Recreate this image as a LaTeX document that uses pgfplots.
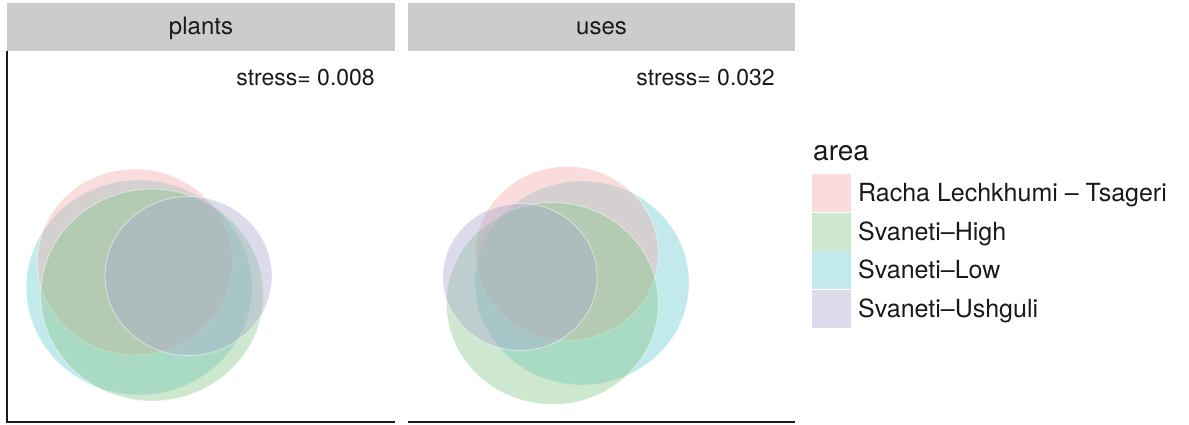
\documentclass[border=0pt]{standalone}
\usepackage{fontspec}
\setmainfont{TeX Gyre Heros}
\usepackage{pgfplots}
\pgfplotsset{compat=1.18}
\definecolor{cRacha}{RGB}{243,168,168}
\definecolor{cHigh}{RGB}{132,198,135}
\definecolor{cLow}{RGB}{103,203,208}
\definecolor{cUsh}{RGB}{168,166,204}
\definecolor{stripgray}{HTML}{CCCCCC}
\definecolor{txt}{HTML}{1A1A1A}
\pgfplotsset{
  venn/.style 2 args={only marks, mark=*, mark size=#1,
    mark options={xscale=1.05, fill=#2, fill opacity=0.4, draw=white, draw opacity=0.5, line width=0.8pt},
    legend image code/.code={\path[fill=#2, fill opacity=0.4, draw=none] (0pt,-19pt) rectangle (39pt,19pt);}},
}
\begin{document}
\begin{tikzpicture}
\useasboundingbox (0,0) rectangle (1189pt,425pt);
% ---------- panel: plants ----------
\begin{axis}[name=p1, at={(7pt,3pt)}, anchor=south west, scale only axis,
  width=388pt, height=371pt, xmin=7, xmax=395, ymin=3, ymax=374,
  hide axis, clip=false,
  legend cell align=left,
  legend style={at={(axis cs:812,251)}, anchor=north west, draw=none, fill=none,
    font=\fontsize{25}{30}\selectfont\color{txt}, row sep=0.5pt,
    inner xsep=0pt, inner ysep=0pt, nodes={inner sep=1pt},
    /tikz/every odd column/.append style={column sep=6pt}}]
\fill[stripgray] (axis cs:7,374) rectangle (axis cs:395,422);
\node[font=\fontsize{24}{28}\selectfont, text=txt] at (axis cs:201,397) {plants};
\addlegendimage{venn={1}{cRacha}}
\addlegendentry{Racha Lechkhumi – Tsageri}
\addlegendimage{venn={1}{cHigh}}
\addlegendentry{Svaneti–High}
\addlegendimage{venn={1}{cLow}}
\addlegendentry{Svaneti–Low}
\addlegendimage{venn={1}{cUsh}}
\addlegendentry{Svaneti–Ushguli}
% drawing order: Low, Racha, High, Ushguli
\addplot[venn={107.5}{cLow}, forget plot] coordinates {(139,137.5)};
\addplot[venn={93}{cRacha}, forget plot] coordinates {(135,163)};
\addplot[venn={106}{cHigh}, forget plot] coordinates {(152,130)};
\addplot[venn={79.5}{cUsh}, forget plot] coordinates {(188.5,149)};
\node[anchor=east, inner sep=0pt, font=\fontsize{23}{27}\selectfont, text=txt] at (axis cs:375,347) {stress= 0.008};
\draw[line width=1.8pt, color=txt] (axis cs:7,374) -- (axis cs:7,3) -- (axis cs:395,3);
\node[anchor=west, inner sep=0pt, font=\fontsize{28}{32}\selectfont, text=txt] at (axis cs:813,272) {area};
\end{axis}
% ---------- panel: uses ----------
\begin{axis}[name=p2, at={(408pt,3pt)}, anchor=south west, scale only axis,
  width=387pt, height=371pt, xmin=408, xmax=795, ymin=3, ymax=374,
  hide axis, clip=false]
\fill[stripgray] (axis cs:408,374) rectangle (axis cs:795,422);
\node[font=\fontsize{24}{28}\selectfont, text=txt] at (axis cs:601.5,397) {uses};
\addplot[venn={102}{cLow}] coordinates {(582,142)};
\addplot[venn={87}{cRacha}] coordinates {(567,171.5)};
\addplot[venn={101}{cHigh}] coordinates {(552.5,121.5)};
\addplot[venn={73.5}{cUsh}] coordinates {(520,148)};
\node[anchor=east, inner sep=0pt, font=\fontsize{23}{27}\selectfont, text=txt] at (axis cs:775,347) {stress= 0.032};
\draw[line width=1.8pt, color=txt] (axis cs:408,3) -- (axis cs:795,3);
\end{axis}
\end{tikzpicture}
\end{document}
